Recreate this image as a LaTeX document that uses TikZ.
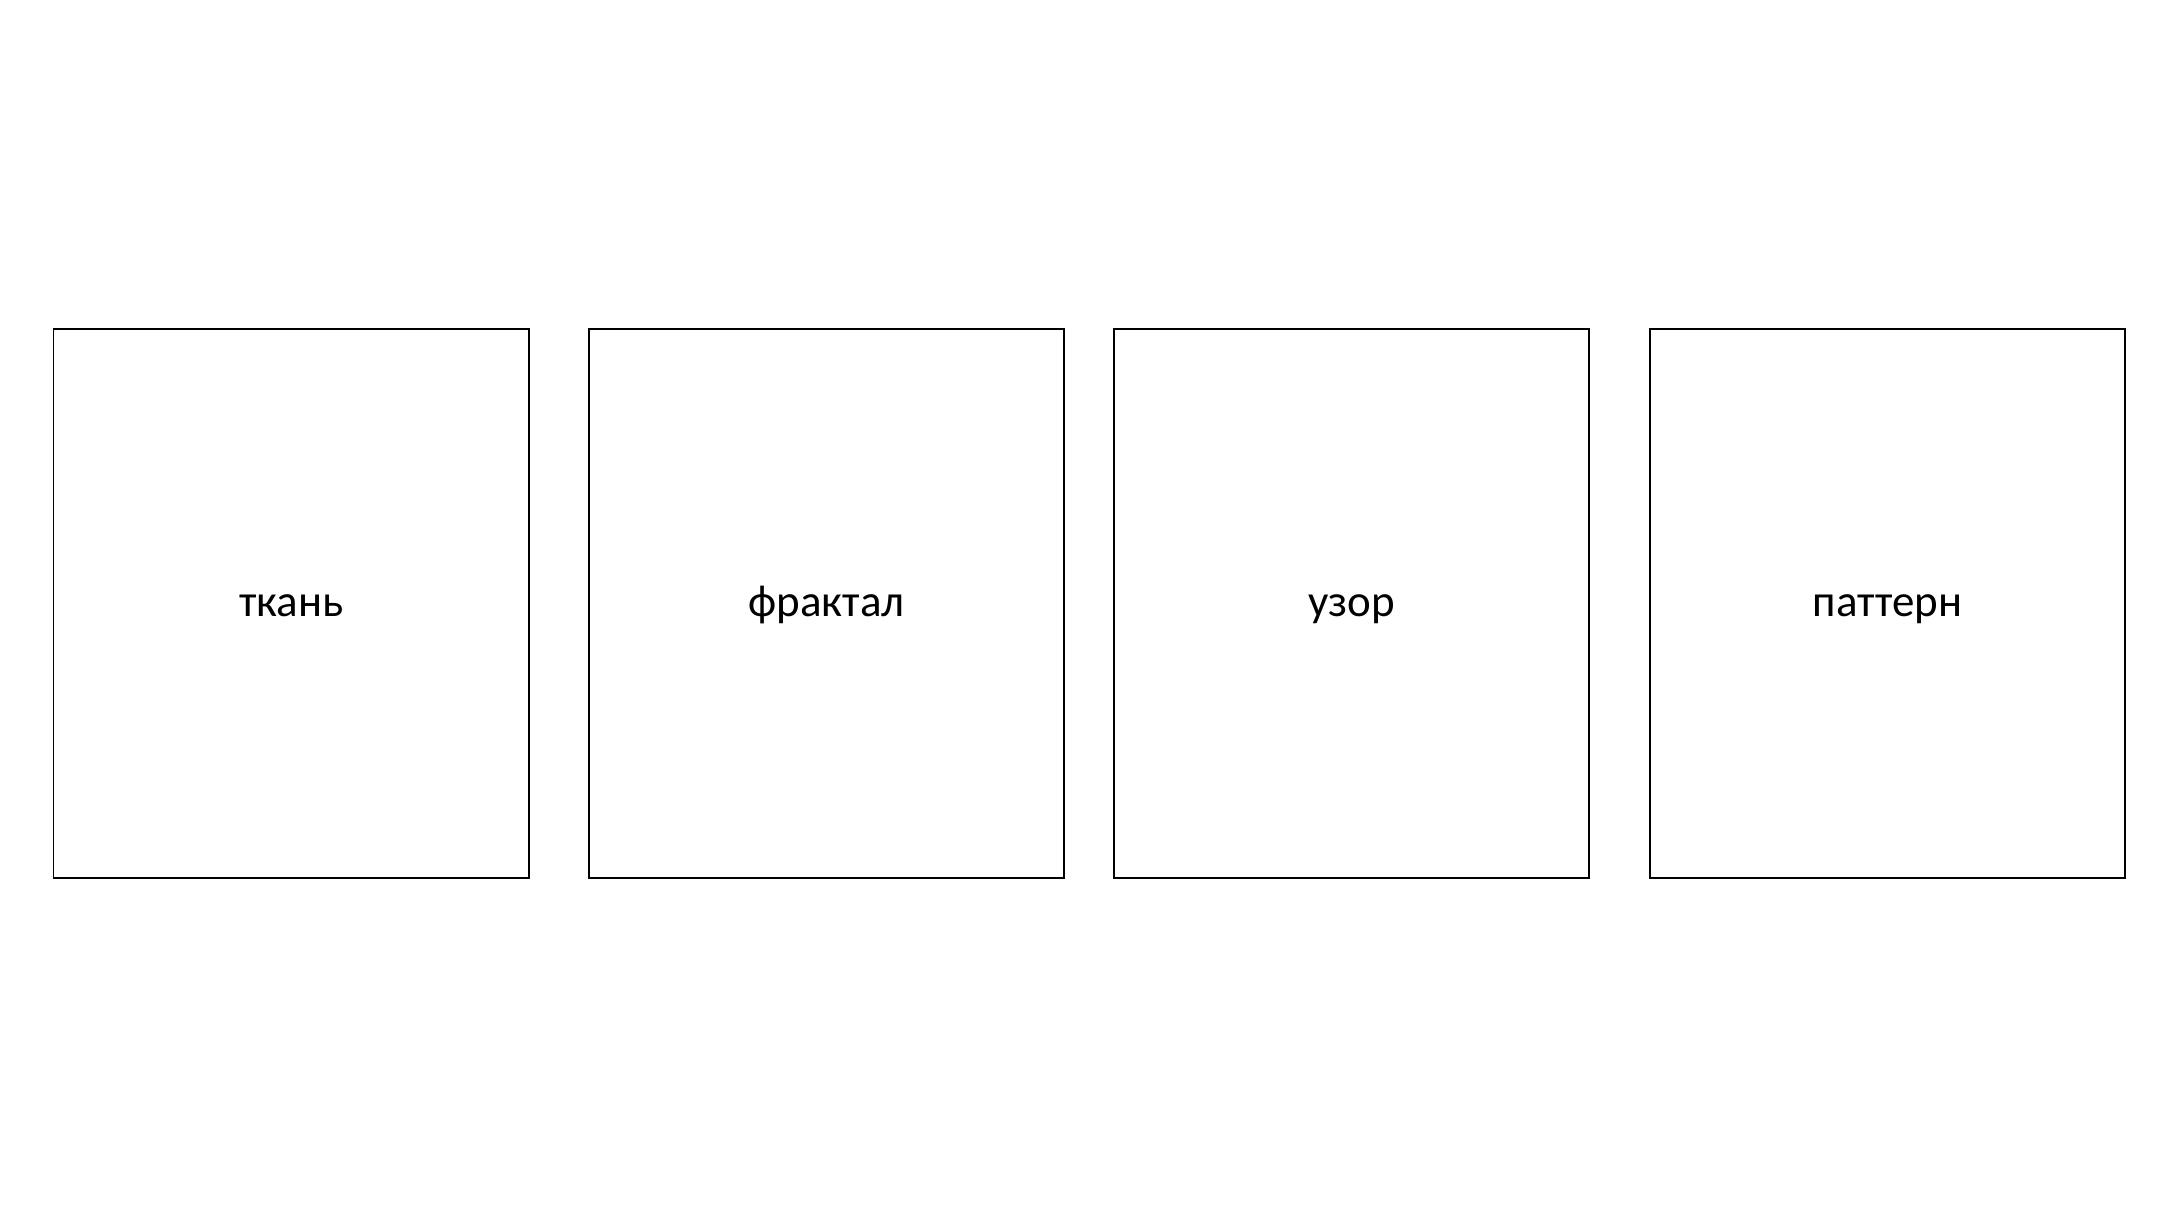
\documentclass[tikz,border=0pt]{standalone}
\usepackage{fontspec}
\setmainfont{Carlito}
\begin{document}
\begin{tikzpicture}[x=1pt,y=-1pt,
  card/.style={draw=black, line width=1.7pt, fill=white, rectangle, inner sep=0pt,
    minimum width=475.5pt, minimum height=549pt,
    font=\fontsize{45}{54}\selectfont, text height=25pt, text depth=0pt}]
\useasboundingbox (0,0) rectangle (2180,1224);
\fill[white] (0,0) rectangle (2180,1224);
\node[card] (b1) at (291.25,603.5) {ткань};
\node[card] (b2) at (826.5,603.5) {фрактал};
\node[card] (b3) at (1351.5,603.5) {узор};
\node[card] (b4) at (1887.5,603.5) {паттерн};
\end{tikzpicture}
\end{document}
